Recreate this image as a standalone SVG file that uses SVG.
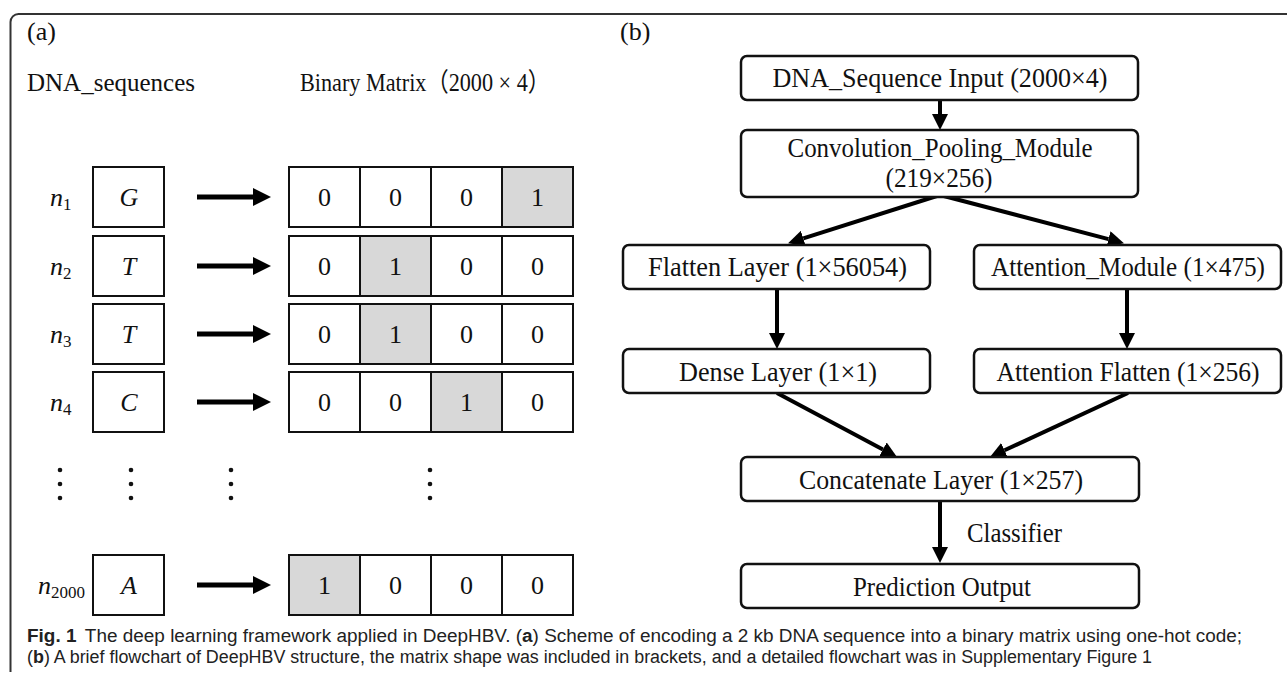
<svg xmlns="http://www.w3.org/2000/svg" width="1287" height="674" viewBox="0 0 1287 674">
<defs>
<style>
.frame{fill:none;stroke:#333;stroke-width:2}
.t{font-family:"Liberation Serif","Times New Roman","Noto Sans CJK SC",serif;fill:#111}
.lbl{font-size:26px}
.it{font-style:italic}
.up{font-style:normal}
.mid{text-anchor:middle}
.cell{fill:#fff;stroke:#111;stroke-width:2}
.on{fill:#d8d8d8}
.fbox{fill:#fff;stroke:#111;stroke-width:2.5}
.ft{font-size:27px;text-anchor:middle}
.conn{stroke:#000;stroke-width:4;fill:none}
.arrL{stroke:#000;stroke-width:5;fill:none}
.dot{fill:#111}
.cap{font-family:"Liberation Sans","Noto Sans",sans-serif;font-size:18px;fill:#222}
.b{font-weight:bold}
</style>
<marker id="ahL" markerUnits="userSpaceOnUse" markerWidth="18" markerHeight="18" refX="0" refY="9" orient="auto"><path d="M0,0 L18,9 L0,18 z" fill="#000"/></marker>
<marker id="ahF" markerUnits="userSpaceOnUse" markerWidth="16" markerHeight="16" refX="0" refY="8" orient="auto"><path d="M0,0 L16,8 L0,16 z" fill="#000"/></marker>
</defs>
<rect x="0" y="0" width="1287" height="674" fill="#fff"/>
<path class="frame" d="M10.5,672 V22 A8,8 0 0 1 18.5,14 H1287"/>

<g id="panel-a-labels">
<text class="t lbl" x="27" y="40">(a)</text>
<text class="t lbl" x="27" y="91" textLength="168" lengthAdjust="spacingAndGlyphs">DNA_sequences</text>
<text class="t lbl" x="300" y="91" textLength="250" lengthAdjust="spacingAndGlyphs">Binary Matrix（2000 × 4）</text>
</g>

<g id="connectors">
<line class="arrL" x1="197" y1="197" x2="253" y2="197" marker-end="url(#ahL)"/>
<line class="arrL" x1="197" y1="266" x2="253" y2="266" marker-end="url(#ahL)"/>
<line class="arrL" x1="197" y1="334" x2="253" y2="334" marker-end="url(#ahL)"/>
<line class="arrL" x1="197" y1="402" x2="253" y2="402" marker-end="url(#ahL)"/>
<line class="arrL" x1="197" y1="585" x2="253" y2="585" marker-end="url(#ahL)"/>
<line class="conn" x1="940" y1="99" x2="940" y2="114" marker-end="url(#ahF)"/>
<line class="conn" x1="940" y1="195" x2="803.3" y2="238.4" marker-end="url(#ahF)"/>
<line class="conn" x1="940" y1="195" x2="1108.5" y2="239.1" marker-end="url(#ahF)"/>
<line class="conn" x1="777" y1="289" x2="777" y2="333" marker-end="url(#ahF)"/>
<line class="conn" x1="1127" y1="289" x2="1127" y2="333" marker-end="url(#ahF)"/>
<line class="conn" x1="777" y1="393" x2="882.9" y2="449.5" marker-end="url(#ahF)"/>
<line class="conn" x1="1128" y1="393" x2="1004.5" y2="450.3" marker-end="url(#ahF)"/>
<line class="conn" x1="940" y1="501" x2="940" y2="547" marker-end="url(#ahF)"/>
</g>

<g id="row-n1">
<text class="t lbl it" x="50" y="206">n<tspan class="up" font-size="17" dy="4">1</tspan></text>
<rect class="cell" x="93" y="167" width="71" height="60"/>
<text class="t lbl it mid" x="129" y="206">G</text>
<rect class="cell" x="289" y="167" width="71" height="60"/>
<rect class="cell" x="360" y="167" width="71" height="60"/>
<rect class="cell" x="431" y="167" width="71" height="60"/>
<rect class="cell on" x="502" y="167" width="71" height="60"/>
<text class="t lbl mid" x="324.5" y="206">0</text>
<text class="t lbl mid" x="395.5" y="206">0</text>
<text class="t lbl mid" x="466.5" y="206">0</text>
<text class="t lbl mid" x="537.5" y="206">1</text>
</g>

<g id="row-n2">
<text class="t lbl it" x="50" y="275">n<tspan class="up" font-size="17" dy="4">2</tspan></text>
<rect class="cell" x="93" y="236" width="71" height="60"/>
<text class="t lbl it mid" x="129" y="275">T</text>
<rect class="cell" x="289" y="236" width="71" height="60"/>
<rect class="cell on" x="360" y="236" width="71" height="60"/>
<rect class="cell" x="431" y="236" width="71" height="60"/>
<rect class="cell" x="502" y="236" width="71" height="60"/>
<text class="t lbl mid" x="324.5" y="275">0</text>
<text class="t lbl mid" x="395.5" y="275">1</text>
<text class="t lbl mid" x="466.5" y="275">0</text>
<text class="t lbl mid" x="537.5" y="275">0</text>
</g>

<g id="row-n3">
<text class="t lbl it" x="50" y="343">n<tspan class="up" font-size="17" dy="4">3</tspan></text>
<rect class="cell" x="93" y="304" width="71" height="60"/>
<text class="t lbl it mid" x="129" y="343">T</text>
<rect class="cell" x="289" y="304" width="71" height="60"/>
<rect class="cell on" x="360" y="304" width="71" height="60"/>
<rect class="cell" x="431" y="304" width="71" height="60"/>
<rect class="cell" x="502" y="304" width="71" height="60"/>
<text class="t lbl mid" x="324.5" y="343">0</text>
<text class="t lbl mid" x="395.5" y="343">1</text>
<text class="t lbl mid" x="466.5" y="343">0</text>
<text class="t lbl mid" x="537.5" y="343">0</text>
</g>

<g id="row-n4">
<text class="t lbl it" x="50" y="411">n<tspan class="up" font-size="17" dy="4">4</tspan></text>
<rect class="cell" x="93" y="372" width="71" height="60"/>
<text class="t lbl it mid" x="129" y="411">C</text>
<rect class="cell" x="289" y="372" width="71" height="60"/>
<rect class="cell" x="360" y="372" width="71" height="60"/>
<rect class="cell on" x="431" y="372" width="71" height="60"/>
<rect class="cell" x="502" y="372" width="71" height="60"/>
<text class="t lbl mid" x="324.5" y="411">0</text>
<text class="t lbl mid" x="395.5" y="411">0</text>
<text class="t lbl mid" x="466.5" y="411">1</text>
<text class="t lbl mid" x="537.5" y="411">0</text>
</g>

<g id="ellipsis">
<circle class="dot" cx="60" cy="470" r="2.3"/><circle class="dot" cx="60" cy="484" r="2.3"/><circle class="dot" cx="60" cy="498" r="2.3"/>
<circle class="dot" cx="131" cy="470" r="2.3"/><circle class="dot" cx="131" cy="484" r="2.3"/><circle class="dot" cx="131" cy="498" r="2.3"/>
<circle class="dot" cx="231" cy="470" r="2.3"/><circle class="dot" cx="231" cy="484" r="2.3"/><circle class="dot" cx="231" cy="498" r="2.3"/>
<circle class="dot" cx="430" cy="470" r="2.3"/><circle class="dot" cx="430" cy="484" r="2.3"/><circle class="dot" cx="430" cy="498" r="2.3"/>
</g>

<g id="row-n2000">
<text class="t lbl it" x="38" y="594">n<tspan class="up" font-size="17" dy="4">2000</tspan></text>
<rect class="cell" x="93" y="555" width="71" height="60"/>
<text class="t lbl it mid" x="129" y="594">A</text>
<rect class="cell on" x="289" y="555" width="71" height="60"/>
<rect class="cell" x="360" y="555" width="71" height="60"/>
<rect class="cell" x="431" y="555" width="71" height="60"/>
<rect class="cell" x="502" y="555" width="71" height="60"/>
<text class="t lbl mid" x="324.5" y="594">1</text>
<text class="t lbl mid" x="395.5" y="594">0</text>
<text class="t lbl mid" x="466.5" y="594">0</text>
<text class="t lbl mid" x="537.5" y="594">0</text>
</g>

<g id="panel-b-label">
<text class="t lbl" x="620" y="40">(b)</text>
</g>

<g id="node-input">
<rect class="fbox" x="741" y="56" width="397" height="44" rx="6"/>
<text class="t ft" x="940" y="87" textLength="335" lengthAdjust="spacingAndGlyphs">DNA_Sequence Input (2000×4)</text>
</g>
<g id="node-conv">
<rect class="fbox" x="741" y="130" width="397" height="67" rx="6"/>
<text class="t ft" x="940" y="157" textLength="305" lengthAdjust="spacingAndGlyphs">Convolution_Pooling_Module</text>
<text class="t ft" x="939" y="187" textLength="107" lengthAdjust="spacingAndGlyphs">(219×256)</text>
</g>
<g id="node-flatten">
<rect class="fbox" x="623" y="245" width="307" height="44" rx="6"/>
<text class="t ft" x="777.5" y="276" textLength="259" lengthAdjust="spacingAndGlyphs">Flatten Layer  (1×56054)</text>
</g>
<g id="node-attention">
<rect class="fbox" x="974" y="245" width="307" height="44" rx="6"/>
<text class="t ft" font-size="25" x="1128" y="276" textLength="274" lengthAdjust="spacingAndGlyphs">Attention_Module (1×475)</text>
</g>
<g id="node-dense">
<rect class="fbox" x="623" y="349" width="307" height="44" rx="6"/>
<text class="t ft" x="778" y="381" textLength="198" lengthAdjust="spacingAndGlyphs">Dense Layer (1×1)</text>
</g>
<g id="node-attflatten">
<rect class="fbox" x="974" y="349" width="307" height="44" rx="6"/>
<text class="t ft" x="1128" y="381" textLength="263" lengthAdjust="spacingAndGlyphs">Attention Flatten (1×256)</text>
</g>
<g id="node-concat">
<rect class="fbox" x="741" y="457" width="398" height="44" rx="6"/>
<text class="t ft" x="941" y="489" textLength="284" lengthAdjust="spacingAndGlyphs">Concatenate Layer (1×257)</text>
</g>
<g id="label-classifier">
<text class="t" font-size="27" x="967" y="542" textLength="95" lengthAdjust="spacingAndGlyphs">Classifier</text>
</g>
<g id="node-output">
<rect class="fbox" x="741" y="564" width="398" height="44" rx="6"/>
<text class="t ft" x="942" y="596" textLength="178" lengthAdjust="spacingAndGlyphs">Prediction Output</text>
</g>

<g id="caption">
<text class="cap" x="27" y="642" textLength="1215" lengthAdjust="spacingAndGlyphs"><tspan class="b">Fig. 1</tspan><tspan dx="8">The deep learning framework applied in DeepHBV. (</tspan><tspan class="b">a</tspan>) Scheme of encoding a 2 kb DNA sequence into a binary matrix using one-hot code;</text>
<text class="cap" x="27" y="663" textLength="1125" lengthAdjust="spacingAndGlyphs">(<tspan class="b">b</tspan>) A brief flowchart of DeepHBV structure, the matrix shape was included in brackets, and a detailed flowchart was in Supplementary Figure 1</text>
</g>
</svg>
